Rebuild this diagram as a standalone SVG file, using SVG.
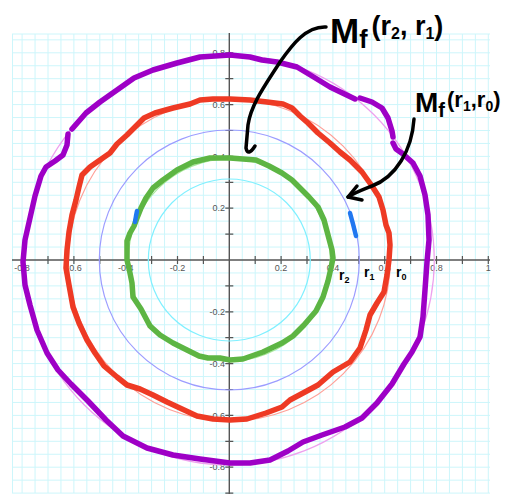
<svg xmlns="http://www.w3.org/2000/svg" width="506" height="495" viewBox="0 0 506 495">
<style>
.grid{stroke:#cdf6fb;stroke-width:1;fill:none}
.axis{stroke:#555;stroke-width:1.4;fill:none}
.tick{stroke:#555;stroke-width:1.2}
.tl{font-family:"Liberation Sans",Arial,sans-serif;font-size:9px;fill:#555}
.tx{text-anchor:middle}
.ty{text-anchor:end}
.ref{fill:none;stroke-width:1.2}
.thick{fill:none;stroke-width:5.5;stroke-linejoin:round;stroke-linecap:round}
.hand{font-family:"Liberation Sans",Arial,sans-serif;font-weight:bold;fill:#000}
.arrow{fill:none;stroke:#000;stroke-width:3.5;stroke-linecap:round;stroke-linejoin:round}
</style>
<rect width="506" height="495" fill="#fff"/>
<g id="grid" class="grid">
<path d="M12.5,34V493M22.1,34V493M35.05,34V493M48,34V493M60.95,34V493M73.9,34V493M86.85,34V493M99.8,34V493M112.75,34V493M125.7,34V493M138.65,34V493M151.6,34V493M164.55,34V493M177.5,34V493M190.45,34V493M203.4,34V493M216.35,34V493M242.25,34V493M255.2,34V493M268.15,34V493M281.1,34V493M294.05,34V493M307,34V493M319.95,34V493M332.9,34V493M345.85,34V493M358.8,34V493M371.75,34V493M384.7,34V493M397.65,34V493M410.6,34V493M423.55,34V493M436.5,34V493M449.45,34V493M462.4,34V493M475.35,34V493M488.3,34V493"/>
<path d="M12,34H490M12,39.85H490M12,52.8H490M12,65.75H490M12,78.7H490M12,91.65H490M12,104.6H490M12,117.55H490M12,130.5H490M12,143.45H490M12,156.4H490M12,169.35H490M12,182.3H490M12,195.25H490M12,208.2H490M12,221.15H490M12,234.1H490M12,247.05H490M12,272.95H490M12,285.9H490M12,298.85H490M12,311.8H490M12,324.75H490M12,337.7H490M12,350.65H490M12,363.6H490M12,376.55H490M12,389.5H490M12,402.45H490M12,415.4H490M12,428.35H490M12,441.3H490M12,454.25H490M12,467.2H490M12,480.15H490M12,493.1H490"/>
</g>
<g id="axes">
<path class="axis" d="M12,260H490M229.3,33V494"/>
<path class="tick" d="M22.1,256V264M48,256V264M73.9,256V264M99.8,256V264M125.7,256V264M151.6,256V264M177.5,256V264M203.4,256V264M255.2,256V264M281.1,256V264M307,256V264M332.9,256V264M358.8,256V264M384.7,256V264M410.6,256V264M436.5,256V264M462.4,256V264M488.3,256V264"/>
<path class="tick" d="M225.3,52.8H233.3M225.3,78.7H233.3M225.3,104.6H233.3M225.3,130.5H233.3M225.3,156.4H233.3M225.3,182.3H233.3M225.3,208.2H233.3M225.3,234.1H233.3M225.3,285.9H233.3M225.3,311.8H233.3M225.3,337.7H233.3M225.3,363.6H233.3M225.3,389.5H233.3M225.3,415.4H233.3M225.3,441.3H233.3M225.3,467.2H233.3M225.3,493.1H233.3"/>
<g class="tl tx">
<text x="22.1" y="271">-0.8</text>
<text x="73.9" y="271">-0.6</text>
<text x="125.7" y="271">-0.4</text>
<text x="177.5" y="271">-0.2</text>
<text x="281.1" y="271">0.2</text>
<text x="332.9" y="271">0.4</text>
<text x="384.7" y="271">0.6</text>
<text x="436.5" y="271">0.8</text>
<text x="488.3" y="271">1</text>
</g>
<g class="tl ty">
<text x="225" y="56">0.8</text>
<text x="225" y="107.8">0.6</text>
<text x="225" y="159.6">0.4</text>
<text x="225" y="211.4">0.2</text>
<text x="225" y="315">-0.2</text>
<text x="225" y="366.8">-0.4</text>
<text x="225" y="418.6">-0.6</text>
<text x="225" y="470.4">-0.8</text>
</g>
</g>
<g id="reference-circles">
<circle class="ref" cx="229.3" cy="260" r="81" stroke="#80f0ff"/>
<circle class="ref" cx="229.3" cy="260" r="130" stroke="#9c9cff"/>
<circle class="ref" cx="229.3" cy="260" r="101" stroke="#a8e89a"/>
<circle class="ref" cx="229.3" cy="260" r="161" stroke="#ffa098"/>
<circle class="ref" cx="229.3" cy="260" r="205" stroke="#eea0ee"/>
</g>
<g id="curve-green">
<path class="thick" stroke="#5db543" d="M230,158L256,160L269,166L282,173L292,180L300,188L309,197L318,207L324,220L328,235L332,250L333,258L331,268L328,281L323,297L316,311L304,325L293,336L282,343L263,352L243,359L230,360L220,358L208,358L199,356L187,350L173,343L160,335L150,326L141,309L133,297L132,283L130,273L127,260L127,241L130,233L134,226L137,218L141,208L146,198L153,188L163,180L177,170L193,162L210,158Z"/>
</g>
<g id="curve-red">
<path class="thick" stroke="#ee3a24" d="M230,99L250,100L267,102L283,104L292,108L300,116L308,123L318,133L330,143L340,152L350,160L362,172L372,186L379,197L383,210L386,225L389,233L390,245L389,260L387,275L384,292L377,303L370,315L366,330L360,348L350,362L333,372L318,385L305,392L290,400L282,407L266,413L247,419L230,420L213,419L197,416L182,409L167,402L153,395L140,389L127,385L117,377L104,366L95,353L87,340L79,323L73,307L69,285L66,268L67,250L69,232L72,215L76,200L79,187L82,175L90,167L100,160L110,153L117,144L127,135L137,125L144,118L155,113L173,108L190,104L200,100L213,99Z"/>
</g>
<g id="curve-purple" class="thick" stroke="#9e00c6">
<path d="M230,55L250,57L262,60L277,62L297,67L312,76L330,87L355,99"/>
<path d="M360,98L372,102L382,108L388,118L392,131L393,137"/>
<path d="M393,143L396,149L403,154L413,163L420,176L425,195L428,215L429,240L427,262L425,290L423,317L420,337L412,352L404,364L392,384L377,403L362,418L345,427L322,435L303,442L288,451L270,460L250,463L230,463L200,459L173,455L147,448L123,436L106,420L88,401L71,384L58,370L47,353L37,330L30,305L25,285L23,262L25,240L30,218L35,196L41,176L46,167L55,161L63,155L67,145L68,134"/>
<path d="M72,129L86,113L100,102L117,90L134,78L153,70L177,63L200,57L230,55"/>
</g>
<g id="curve-blue" class="thick" stroke="#1f78f0" style="stroke-width:4.5">
<path d="M350,213L353,224L356,236"/>
<path d="M137,211L136,216L135,222"/>
</g>
<g id="label-r2r1">
<text class="hand" x="330" y="43" font-size="35">M<tspan font-size="25" dy="5">f</tspan><tspan font-size="27" dy="-13" dx="4">(r</tspan><tspan font-size="16" dy="4">2</tspan><tspan font-size="27" dy="-4">, r</tspan><tspan font-size="16" dy="4">1</tspan><tspan font-size="27" dy="-4">)</tspan></text>
</g>
<g id="label-r1r0">
<text class="hand" x="415" y="112" font-size="28">M<tspan font-size="20" dy="5">f</tspan><tspan font-size="22" dy="-10" dx="2">(r</tspan><tspan font-size="14" dy="4">1</tspan><tspan font-size="22" dy="-4">,r</tspan><tspan font-size="14" dy="4">0</tspan><tspan font-size="22" dy="-4">)</tspan></text>
</g>
<g id="radius-labels" class="hand" font-size="14">
<text x="339" y="280">r<tspan font-size="9" dy="3">2</tspan></text>
<text x="364" y="277">r<tspan font-size="9" dy="3">1</tspan></text>
<text x="396" y="277">r<tspan font-size="9" dy="3">0</tspan></text>
</g>
<g id="connectors">
<path class="arrow" d="M326,27C306,26 292,45 280,62C266,84 251,104 248,125L246,148Q248,157 255,146"/>
<path class="arrow" d="M414,119C412,150 396,177 372,186C362,190 354,193 348,197"/>
<path class="arrow" d="M357,186L348,197L362,200"/>
</g>
</svg>
